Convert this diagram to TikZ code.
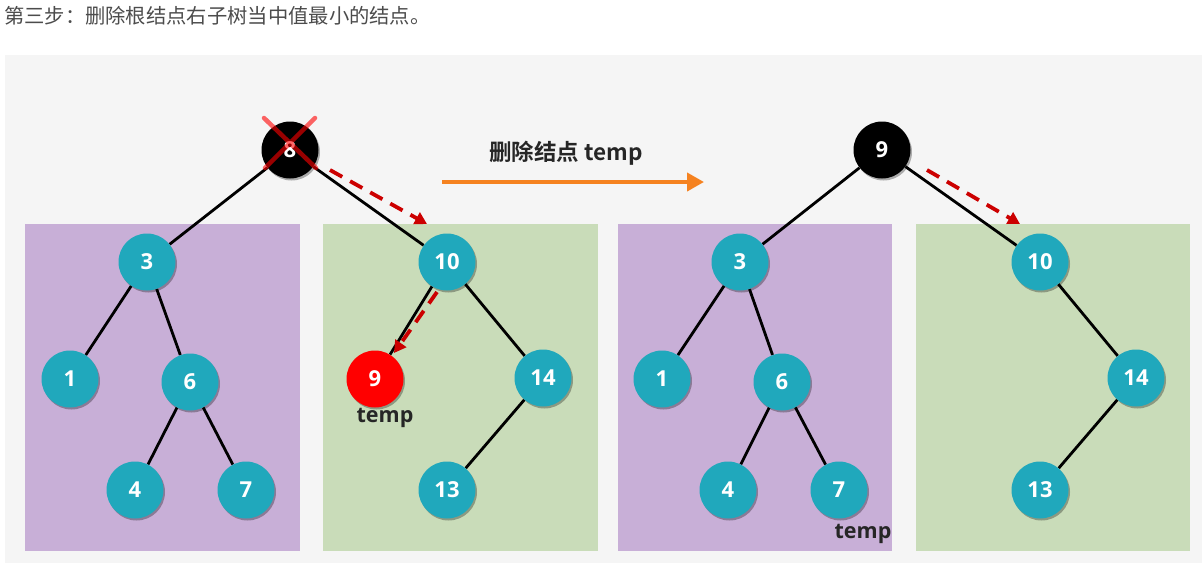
\documentclass[tikz,border=0pt]{standalone}
\usepackage{fontspec}
\setmainfont{Open Sans}
\newfontfamily\cjk{Noto Sans CJK SC}[BoldFont={Noto Sans CJK SC Bold}]
\usetikzlibrary{arrows.meta,shadows}
\pgfdeclarelayer{bottom}
\pgfdeclarelayer{back}
\pgfsetlayers{bottom,back,main}
\definecolor{teal}{RGB}{32,168,188}
\definecolor{lilac}{RGB}{200,175,215}
\definecolor{sage}{RGB}{201,220,185}
\definecolor{bggray}{RGB}{245,245,245}
\definecolor{orng}{RGB}{245,130,32}
\definecolor{dred}{RGB}{204,0,0}

\begin{document}
\begin{tikzpicture}[x=1pt,y=-1pt,
  nd/.style={circle,fill=teal,minimum size=57pt,inner sep=0pt,text=white,
    font=\fontsize{22}{22}\selectfont\bfseries,
    drop shadow={shadow xshift=1.5pt,shadow yshift=-2pt,opacity=.3,fill=black}},
  root/.style={nd,fill=black},
  edge/.style={line width=2.8pt,black},
  walk/.style={line width=3.8pt,dred,dash pattern=on 14pt off 9pt,
    -{Triangle[length=12pt,width=13pt]}},
  lbl/.style={font=\fontsize{21.5}{21.5}\selectfont\bfseries,text=black!85}]
  \useasboundingbox (0,0) rectangle (1202,563);
  \begin{pgfonlayer}{bottom}
    \fill[white] (0,0) rectangle (1202,563);
    \fill[bggray] (5,55) rectangle (1202,563);
    \fill[lilac] (25,224) rectangle (300,551);
    \fill[sage] (323,224) rectangle (598,551);
    \fill[lilac] (618,224) rectangle (892,551);
    \fill[sage] (916,224) rectangle (1190,551);
  \end{pgfonlayer}
  \node[anchor=west,text=black!70,inner sep=0pt,font=\cjk\fontsize{20.3}{20.3}\selectfont] (title) at (4,16)
    {第三步：删除根结点右子树当中值最小的结点。};

  % before
  \node[root] (r8) at (290,150) {8};
  \node[nd] (a3) at (147,262) {3};
  \node[nd] (a1) at (70,379) {1};
  \node[nd] (a6) at (190,382) {6};
  \node[nd] (a4) at (135,490) {4};
  \node[nd] (a7) at (246,490) {7};
  \node[nd] (a10) at (447,262) {10};
  \node[nd,fill=red] (a9) at (375,379) {9};
  \node[nd] (a14) at (543,378) {14};
  \node[nd] (a13) at (447,490) {13};
  \node[lbl] (t1) at (385,418) {temp};
  \begin{pgfonlayer}{back}
    \draw[edge] (r8)--(a3) (r8)--(a10) (a3)--(a1) (a3)--(a6) (a6)--(a4) (a6)--(a7)
      (a10)--(a9) (a10)--(a14) (a14)--(a13);
  \end{pgfonlayer}
  \draw[red,opacity=.6,line width=4.5pt,line cap=round]
    (264,118)--(316,168) (315,118)--(265,168);
  \coordinate (w1) at (330,170);
  \coordinate (w2) at (427,224);
  \coordinate (w3) at (437,292);
  \coordinate (w4) at (394,353);
  \draw[walk] (w1)--(w2);
  \draw[walk] (w3)--(w4);

  % step
  \coordinate (s1) at (442,182);
  \coordinate (s2) at (704,182);
  \draw[orng,line width=4pt,-{Triangle[length=17pt,width=18pt]}] (s1)--(s2);
  \node[font=\cjk\fontsize{22.5}{22.5}\selectfont\bfseries,text=black!85] (stp) at (566,153)
    {删除结点 temp};

  % after
  \node[root] (r9) at (882,150) {9};
  \node[nd] (b3) at (740,262) {3};
  \node[nd] (b1) at (662,379) {1};
  \node[nd] (b6) at (782,382) {6};
  \node[nd] (b4) at (728,490) {4};
  \node[nd] (b7) at (839,490) {7};
  \node[nd] (b10) at (1040,262) {10};
  \node[nd] (b14) at (1136,378) {14};
  \node[nd] (b13) at (1040,490) {13};
  \node[lbl] (t2) at (863,534) {temp};
  \begin{pgfonlayer}{back}
    \draw[edge] (r9)--(b3) (r9)--(b10) (b3)--(b1) (b3)--(b6) (b6)--(b4) (b6)--(b7)
      (b10)--(b14) (b14)--(b13);
  \end{pgfonlayer}
  \coordinate (w5) at (927,170);
  \coordinate (w6) at (1020,224);
  \draw[walk] (w5)--(w6);
\end{tikzpicture}
\end{document}
